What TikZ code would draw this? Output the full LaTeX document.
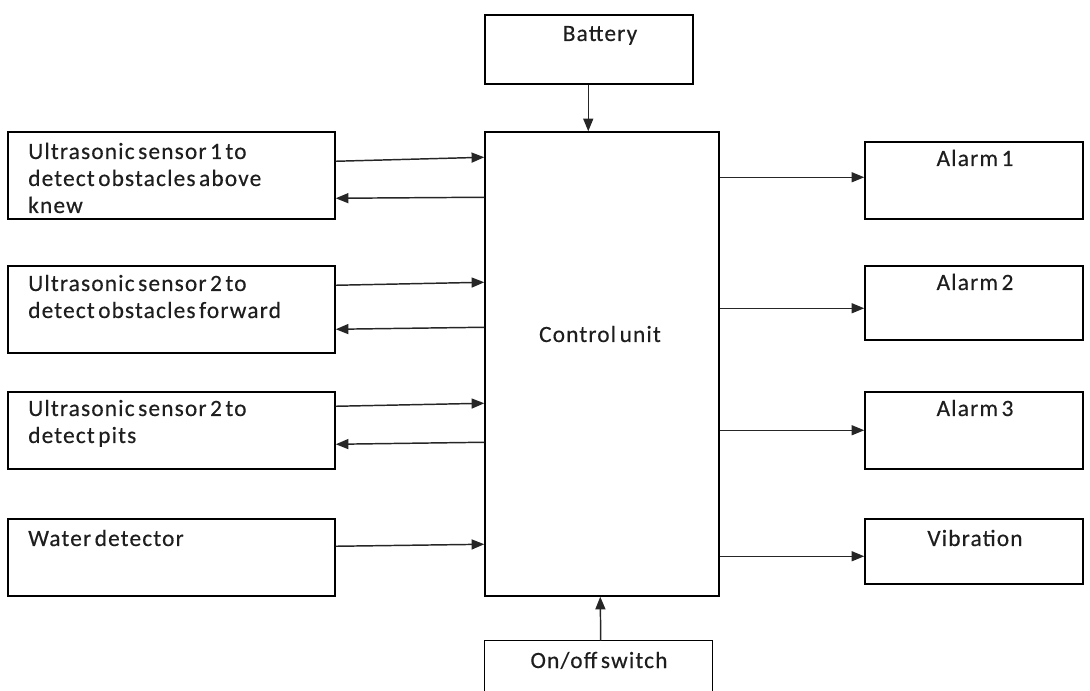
\documentclass[tikz,border=0pt]{standalone}
\usepackage{fontspec}
\setmainfont{Carlito}[LetterSpace=5,WordSpace=0.55,FakeBold=0.4]
\usetikzlibrary{arrows.meta,calc,fit}
\definecolor{ink}{HTML}{1E1E1E}
\tikzset{
  box/.style={draw=black, line width=1.1pt, inner sep=0pt, fill=none},
  txt/.style={inner sep=0pt, text=ink, font=\fontsize{17.5pt}{20.25pt}\selectfont, align=left},
  arr/.style={draw=black!85, line width=1.1pt, -{Triangle[length=9.5pt,width=7.5pt]}}
}
\begin{document}
\begin{tikzpicture}[x=0.75pt,y=-0.75pt]
\useasboundingbox (0,0) rectangle (1090,691);
% boxes
\node[box, fit={(485,15) (693,84)}] (bat) {};
\node[box, fit={(485,132) (719,596)}] (cu) {};
\node[box, fit={(8,132) (335,219)}] (s1) {};
\node[box, fit={(8,266) (335,353)}] (s2) {};
\node[box, fit={(8,392) (335,469)}] (s3) {};
\node[box, fit={(8,519) (335,596)}] (wd) {};
\node[box, fit={(865,142) (1083,219)}] (a1) {};
\node[box, fit={(865,266) (1083,340)}] (a2) {};
\node[box, fit={(865,392) (1083,469)}] (a3) {};
\node[box, fit={(865,519) (1083,584)}] (vb) {};
\node[inner sep=0pt, fit={(485,641) (712,700)}] (sw) {};
\draw[line width=1.1pt] (sw.south west) -- (sw.north west) -- (sw.north east) -- (sw.south east);
% texts
\node[txt, anchor=base] (batt) at (600,41) {Battery};
\node[txt, anchor=base] (cut) at (600,342) {Control unit};
\node[txt, anchor=base west] (s1t) at (28,213) {Ultrasonic sensor 1 to\\detect obstacles above\\knew};
\node[txt, anchor=base west] (s2t) at (28,318) {Ultrasonic sensor 2 to\\detect obstacles forward};
\node[txt, anchor=base west] (s3t) at (28,443) {Ultrasonic sensor 2 to\\detect pits};
\node[txt, anchor=base west] (wdt) at (28,546) {Water detector};
\node[txt, anchor=base] (a1t) at (975,166) {Alarm 1};
\node[txt, anchor=base] (a2t) at (975,290) {Alarm 2};
\node[txt, anchor=base] (a3t) at (975,416) {Alarm 3};
\node[txt, anchor=base] (vbt) at (975,546) {Vibration};
\node[txt, anchor=base] (swt) at (599,668) {On/off switch};
% connectors
\draw[arr] ($(bat.south west)+(104,0)$) -- ($(cu.north west)+(104,0)$);
\draw[arr] ($(sw.north west)+(116,0)$) -- ($(cu.south west)+(116,0)$);
\draw[arr] ($(s1.north east)+(0,30)$) -- ($(cu.north west)+(0,26)$);
\draw[arr] ($(cu.north west)+(0,66)$) -- ($(s1.north east)+(0,67)$);
\draw[arr] ($(s2.north east)+(0,20)$) -- ($(cu.north west)+(0,151)$);
\draw[arr] ($(cu.north west)+(0,196)$) -- ($(s2.north east)+(0,64)$);
\draw[arr] ($(s3.north east)+(0,15)$) -- ($(cu.north west)+(0,272)$);
\draw[arr] ($(cu.north west)+(0,311)$) -- ($(s3.north east)+(0,53)$);
\draw[arr] ($(wd.north east)+(0,28)$) -- ($(cu.north west)+(0,413)$);
\draw[arr] ($(cu.north east)+(0,46)$) -- ($(a1.north west)+(0,36)$);
\draw[arr] ($(cu.north east)+(0,177)$) -- ($(a2.north west)+(0,43)$);
\draw[arr] ($(cu.north east)+(0,299)$) -- ($(a3.north west)+(0,39)$);
\draw[arr] ($(cu.north east)+(0,425)$) -- ($(vb.north west)+(0,38)$);
\end{tikzpicture}
\end{document}
